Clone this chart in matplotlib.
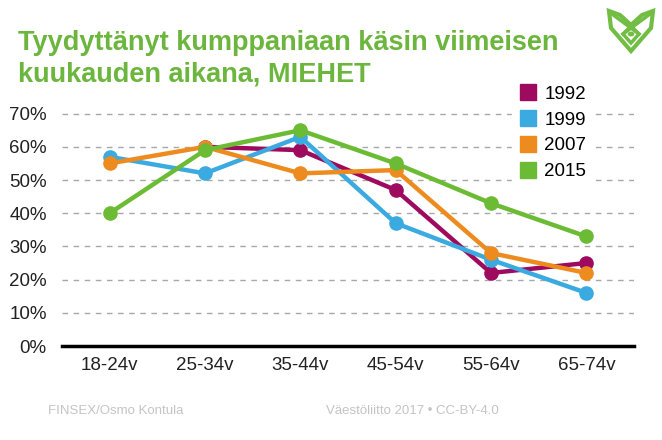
import matplotlib

matplotlib.use("Agg")
import matplotlib.pyplot as plt
import numpy as np
from matplotlib.lines import Line2D
from matplotlib.patches import Polygon, Circle

plt.rcParams["font.family"] = ["Liberation Sans", "DejaVu Sans"]

# data
age_groups = ["18-24v", "25-34v", "35-44v", "45-54v", "55-64v", "65-74v"]
years = ["1992", "1999", "2007", "2015"]
share_1992 = [np.nan, 60, 59, 47, 22, 25]
share_1999 = [57, 52, 63, 37, 26, 16]
share_2007 = [55, 60, 52, 53, 28, 22]
share_2015 = [40, 59, 65, 55, 43, 33]
yticks = [0, 10, 20, 30, 40, 50, 60, 70]

colors = ["#9E0A5E", "#3AAAE1", "#EE8B1E", "#6CBB35"]
green_title = "#6CB63E"
W, H = 662, 440


def fx(px):
    return px / W


def fy(py):
    return 1 - py / H


fig = plt.figure(figsize=(W / 100, H / 100), dpi=100)
ax = fig.add_axes([fx(62), fy(346), fx(634) - fx(62), fy(107) - fy(346)])

x = np.arange(len(age_groups))
for year, values, color in zip(years, [share_1992, share_1999, share_2007, share_2015], colors):
    ax.plot(x, values, "-o", color=color, lw=3.2, markersize=9.5, label=year,
            solid_capstyle="round")

ax.set_xlim(-0.5, len(age_groups) - 0.5)
ax.set_ylim(0, 72)
ax.set_yticks(yticks)
ax.set_yticklabels([f"{v}%" for v in yticks])
ax.set_xticks(x)
ax.set_xticklabels(age_groups)
ax.tick_params(axis="both", length=0, labelsize=13.5, colors="#222222")
ax.tick_params(axis="y", pad=11)
ax.tick_params(axis="x", pad=8)
for side in ["top", "right", "left"]:
    ax.spines[side].set_visible(False)
ax.spines["bottom"].set_linewidth(2.5)
ax.spines["bottom"].set_color("black")
ax.set_axisbelow(True)
for v in yticks[1:]:
    ax.axhline(v, color="#A8A8A8", lw=1, ls=(0, (4, 4)), zorder=0)

handles = [Line2D([], [], marker="s", ls="none", color=c, markersize=11) for c in colors]
leg = fig.legend(handles, years, loc="upper left", bbox_to_anchor=(fx(503), fy(69)),
                 frameon=True, facecolor="white", edgecolor="white", framealpha=1,
                 fontsize=13.5, handlelength=0.9, handletextpad=0.4, labelspacing=0.46,
                 borderpad=0.4, fancybox=False)

fig.text(fx(18), fy(50), "Tyydyttänyt kumppaniaan käsin viimeisen", color=green_title,
         fontsize=19.5, fontweight="bold", va="baseline")
fig.text(fx(18), fy(81), "kuukauden aikana, MIEHET", color=green_title,
         fontsize=19.5, fontweight="bold", va="baseline")

fig.text(fx(48), fy(414), "FINSEX/Osmo Kontula", color="#C4C4C4", fontsize=9.5, va="baseline")
fig.text(fx(499), fy(414), "Väestöliitto 2017 • CC-BY-4.0", color="#C4C4C4", fontsize=9.5,
         va="baseline", ha="right")

# small logo, top right
logo = "#72BE44"
outer = [(609, 11), (620, 15), (631, 25), (642, 15), (653, 11), (651, 28), (631, 51), (611, 28)]
fig.patches.append(Polygon([(fx(a), fy(b)) for a, b in outer], closed=True, fill=False,
                           edgecolor=logo, lw=3, transform=fig.transFigure, figure=fig))
diamond = [(631, 26), (639, 34), (631, 43), (623, 34)]
fig.patches.append(Polygon([(fx(a), fy(b)) for a, b in diamond], closed=True, fill=False,
                           edgecolor=logo, lw=2.5, transform=fig.transFigure, figure=fig))
fig.lines.append(Line2D([fx(612), fx(639)], [fy(14), fy(34)], color=logo, lw=2.5,
                        transform=fig.transFigure))
fig.lines.append(Line2D([fx(650), fx(623)], [fy(14), fy(34)], color=logo, lw=2.5,
                        transform=fig.transFigure))
fig.patches.append(Circle((fx(631), fy(34)), 0.004, color=logo, transform=fig.transFigure,
                          figure=fig))

fig.savefig("out.png", dpi=100)
